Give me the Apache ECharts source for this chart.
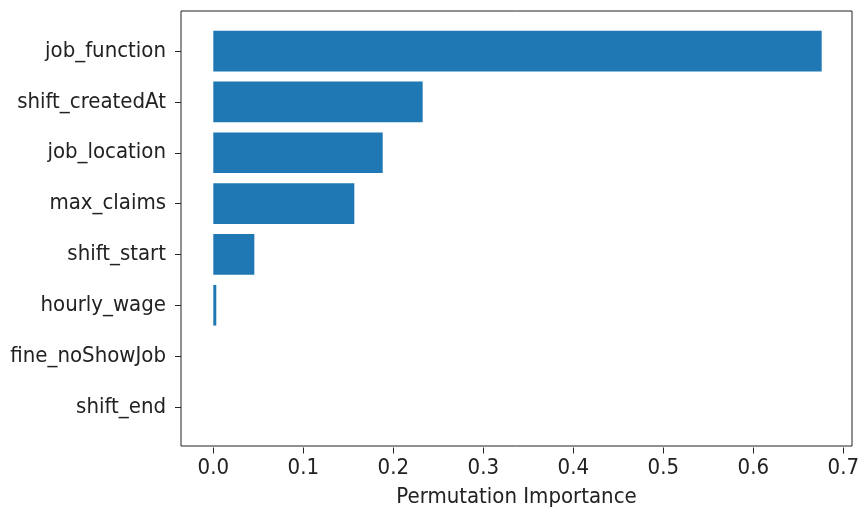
<!DOCTYPE html>
<html>
<head>
<meta charset="utf-8">
<script src="https://cdn.jsdelivr.net/npm/echarts@6/dist/echarts.min.js"></script>
<style>
html,body{margin:0;padding:0;background:#fff;}
#chart{width:862px;height:513px;}
</style>
</head>
<body>
<div id="chart"></div>
<script>
const categories = ["job_function","shift_createdAt","job_location","max_claims","shift_start","hourly_wage","fine_noShowJob","shift_end"];
const importance = [0.673, 0.2316, 0.1874, 0.156, 0.0454, 0.0033, 0, 0];
const xTicks = [0, 0.1, 0.2, 0.3, 0.4, 0.5, 0.6, 0.7];
const xTitle = 'Permutation Importance';

const FONT = '"DejaVu Sans Condensed", "DejaVu Sans"';
const FS = 22;
const TXT = '#222';
const xMin = xTicks[0], xMax = xTicks[xTicks.length-1];

const chart = echarts.init(document.getElementById('chart'), null, {renderer:'canvas'});
chart.setOption({
  animation: false,
  backgroundColor: '#fff',
  grid: [
    {left: 181, top: 11, width: 671, height: 436.5, show: true, borderColor: '#222', borderWidth: 1, backgroundColor: 'transparent'},
    {left: 213.3, top: 25.7, width: 632.8, height: 406.6},
    {left: 181, top: 25.7, width: 671, height: 406.6},
    {left: 213.3, top: 11, width: 632.8, height: 436.5}
  ],
  xAxis: [
    {gridIndex: 0, type: 'value', min: 0, max: 1,
     axisLine: {show: false}, axisTick: {show: false}, axisLabel: {show: false}, splitLine: {show: false},
     name: xTitle, nameLocation: 'middle', nameGap: 40,
     nameTextStyle: {fontFamily: FONT, fontSize: FS, color: TXT}},
    {gridIndex: 1, type: 'value', show: false, min: xMin, max: xMax},
    {gridIndex: 2, type: 'value', show: false, min: 0, max: 1},
    {gridIndex: 3, type: 'value', min: xMin, max: xMax, interval: 0.1,
     axisLine: {show: false},
     axisTick: {show: true, length: 6, lineStyle: {color: '#222', width: 1}},
     splitLine: {show: false},
     axisLabel: {fontFamily: FONT, fontSize: FS, color: TXT, margin: 10, formatter: v => v.toFixed(1)}}
  ],
  yAxis: [
    {gridIndex: 0, type: 'value', show: false, min: 0, max: 1},
    {gridIndex: 1, type: 'category', data: categories, inverse: true, show: false},
    {gridIndex: 2, type: 'category', data: categories, inverse: true,
     axisLine: {show: false},
     axisTick: {show: true, alignWithLabel: true, length: 6, lineStyle: {color: '#222', width: 1}},
     axisLabel: {fontFamily: FONT, fontSize: FS, color: TXT, margin: 15}},
    {gridIndex: 3, type: 'value', show: false, min: 0, max: 1}
  ],
  series: [{
    type: 'bar',
    xAxisIndex: 1, yAxisIndex: 1,
    data: importance,
    barCategoryGap: '20%',
    itemStyle: {color: '#1f77b4'}
  }]
});
</script>
</body>
</html>
